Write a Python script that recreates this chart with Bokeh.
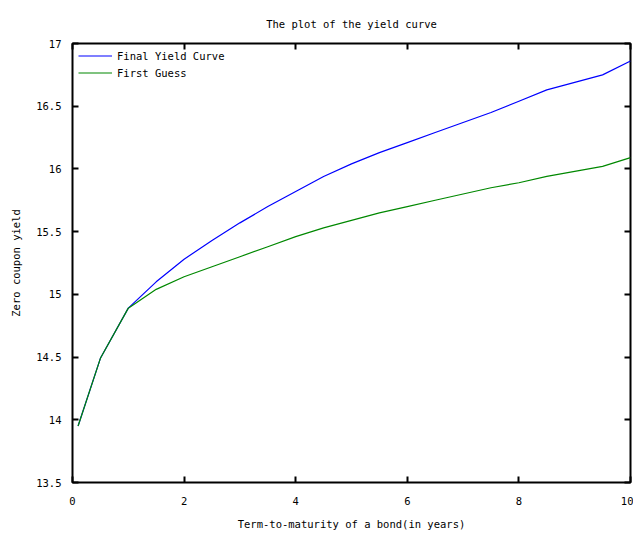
from bokeh.plotting import figure
from bokeh.models import LinearAxis, Range1d, FixedTicker, CustomJSTickFormatter, Legend, LegendItem
from bokeh.embed import file_html
from bokeh.resources import INLINE

maturity = [0.1, 0.5, 1.0, 1.5, 2.0, 2.5, 3.0, 3.5, 4.0, 4.5, 5.0, 5.5, 6.0, 6.5, 7.0, 7.5, 8.0, 8.5, 9.0, 9.5, 10.0]
final_curve = [13.95, 14.49, 14.89, 15.10, 15.28, 15.43, 15.57, 15.70, 15.82, 15.94, 16.04, 16.13, 16.21, 16.29, 16.37, 16.45, 16.54, 16.63, 16.69, 16.75, 16.86]
first_guess = [13.95, 14.49, 14.89, 15.04, 15.14, 15.22, 15.30, 15.38, 15.46, 15.53, 15.59, 15.65, 15.70, 15.75, 15.80, 15.85, 15.89, 15.94, 15.98, 16.02, 16.09]
x_ticks = [0, 2, 4, 6, 8, 10]
y_ticks = [13.5, 14, 14.5, 15, 15.5, 16, 16.5, 17]

FONT = "DejaVu Sans Mono"
FS = "10.5px"

p = figure(width=633, height=532, output_backend="svg", toolbar_location=None,
           x_range=Range1d(0, 10), y_range=Range1d(13.5, 17),
           x_axis_label="Term-to-maturity of a bond(in years)",
           y_axis_label="Zero coupon yield",
           min_border_left=72, min_border_right=3, min_border_top=43, min_border_bottom=48)

p.title.text = "The plot of the yield curve"
p.title.align = "center"
p.title.text_font = FONT
p.title.text_font_size = FS
p.title.text_font_style = "normal"
p.title.text_color = "black"
p.title.offset = 0
p.title.standoff = 28

p.grid.visible = False
p.outline_line_color = "black"
p.outline_line_width = 2
p.outline_line_alpha = 1

fmt = CustomJSTickFormatter(code="return String(tick);")
blank = CustomJSTickFormatter(code="return '';")

def style_axis(ax, ticks, show_labels=True):
    ax.ticker = FixedTicker(ticks=ticks)
    ax.minor_tick_line_color = None
    ax.major_tick_in = 6
    ax.major_tick_out = 0
    ax.major_tick_line_width = 2
    ax.major_tick_line_color = "black"
    ax.axis_line_color = None
    ax.formatter = fmt if show_labels else blank
    ax.major_label_text_font = FONT
    ax.major_label_text_font_size = FS if show_labels else "1px"
    ax.major_label_text_color = "black"
    ax.axis_label_text_font = FONT
    ax.axis_label_text_font_size = FS
    ax.axis_label_text_font_style = "normal"
    ax.axis_label_text_color = "black"
    if not show_labels:
        ax.major_label_standoff = 0

style_axis(p.xaxis[0], x_ticks)
style_axis(p.yaxis[0], y_ticks)
p.xaxis[0].major_label_standoff = 14
p.xaxis[0].axis_label_standoff = 10
p.yaxis[0].major_label_standoff = 11
p.yaxis[0].axis_label_standoff = 11

top_ax = LinearAxis()
right_ax = LinearAxis()
style_axis(top_ax, x_ticks, show_labels=False)
style_axis(right_ax, y_ticks, show_labels=False)
p.add_layout(top_ax, "above")
p.add_layout(right_ax, "right")

r1 = p.line(maturity, final_curve, line_color="#0000ff", line_width=1.2)
r2 = p.line(maturity, first_guess, line_color="#008800", line_width=1.2)

legend = Legend(items=[LegendItem(label="Final Yield Curve", renderers=[r1]),
                       LegendItem(label="First Guess", renderers=[r2])],
                location="top_left")
legend.border_line_color = None
legend.background_fill_alpha = 0
legend.label_text_font = FONT
legend.label_text_font_size = FS
legend.label_text_color = "black"
legend.glyph_width = 34
legend.glyph_height = 13
legend.label_height = 13
legend.spacing = 4
legend.padding = 2
legend.margin = 6
p.add_layout(legend)

open("out.html", "w").write(file_html(p, INLINE))
